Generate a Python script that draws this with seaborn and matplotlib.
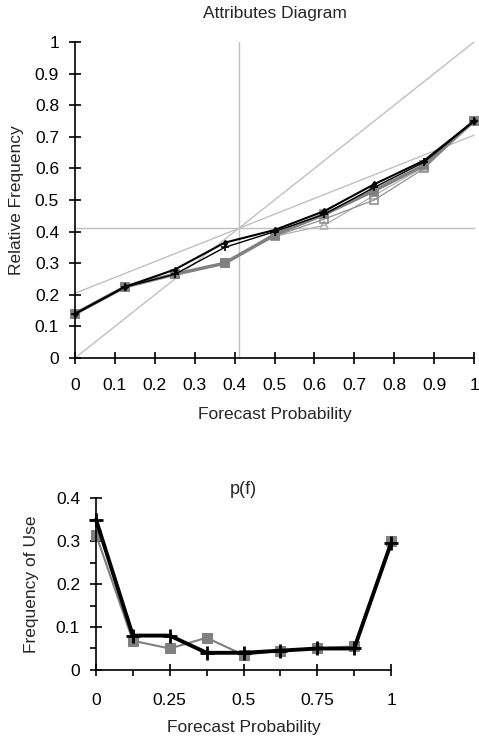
import numpy as np
import pandas as pd
import matplotlib
matplotlib.use("Agg")
import matplotlib.pyplot as plt
import seaborn as sns
from matplotlib.ticker import FuncFormatter, MultipleLocator

# forecast probability bins
prob = [0, 0.125, 0.25, 0.375, 0.5, 0.625, 0.75, 0.875, 1]
clim = 0.41

# attributes diagram: observed relative frequency per bin
rel_a = [0.14, 0.225, 0.28, 0.365, 0.405, 0.465, 0.55, 0.625, 0.75]
rel_b = [0.14, 0.225, 0.265, 0.35, 0.40, 0.455, 0.54, 0.62, 0.75]
rel_c = [0.14, 0.225, 0.265, 0.30, 0.39, 0.455, 0.53, 0.61, 0.75]
rel_d = [0.14, 0.225, 0.265, 0.30, 0.385, 0.44, 0.50, 0.60, 0.75]
rel_e = [0.14, 0.225, 0.265, 0.30, 0.385, 0.42, 0.515, 0.605, 0.75]

# p(f): frequency of use
use_a = [0.35, 0.08, 0.08, 0.04, 0.04, 0.045, 0.05, 0.05, 0.295]
use_b = [0.315, 0.068, 0.05, 0.075, 0.035, 0.045, 0.05, 0.055, 0.30]

x_ticks = [0, 0.1, 0.2, 0.3, 0.4, 0.5, 0.6, 0.7, 0.8, 0.9, 1]
y_ticks = [0, 0.1, 0.2, 0.3, 0.4, 0.5, 0.6, 0.7, 0.8, 0.9, 1]

sns.set_style("ticks")
plt.rcParams["font.family"] = ["Liberation Sans", "DejaVu Sans"]
plt.rcParams["font.size"] = 12.5

fmt = FuncFormatter(lambda v, p: f"{v:g}")

fig = plt.figure(figsize=(4.79, 7.4), dpi=100)

# ---------------- attributes diagram
ax = fig.add_axes([0.1566, 0.5162, 0.833, 0.427])
grey = "#c0c0c0"
ax.plot([0, 1], [0, 1], color=grey, lw=1)
ax.plot([0, 1], [clim / 2, (1 + clim) / 2], color=grey, lw=1)
ax.axhline(clim, color=grey, lw=1)
ax.axvline(clim, color=grey, lw=1)

rel = pd.DataFrame({"prob": prob, "a": rel_a, "b": rel_b, "c": rel_c, "d": rel_d, "e": rel_e})
styles = [
    ("e", "#b0b0b0", 0.9, "^", "none"),
    ("d", "#909090", 0.9, "s", "none"),
    ("c", "#808080", 2.5, "s", "#808080"),
    ("b", "black", 1.0, "+", "black"),
    ("a", "black", 1.5, "d", "black"),
]
for col, c, lw, m, fc in styles:
    sns.lineplot(data=rel, x="prob", y=col, ax=ax, color=c, lw=lw, marker=m,
                 markersize=6 if m != "d" else 3, markerfacecolor=fc,
                 markeredgecolor=c, markeredgewidth=1.2)

ax.set_xlim(0, 1)
ax.set_ylim(0, 1)
ax.set_xticks(x_ticks)
ax.set_yticks(y_ticks)
ax.xaxis.set_major_formatter(fmt)
ax.yaxis.set_major_formatter(fmt)
ax.tick_params(direction="inout", length=9, width=1.2, colors="black", pad=7)
ax.tick_params(axis="x", pad=10)
ax.set_title("Attributes Diagram", fontsize=12.5, pad=17)
ax.set_xlabel("Forecast Probability", labelpad=10)
ax.set_ylabel("Relative Frequency", labelpad=8)
for s in ["left", "bottom"]:
    ax.spines[s].set_linewidth(1.2)
    ax.spines[s].set_color("black")
sns.despine(ax=ax)
for ln in ax.lines:
    ln.set_clip_on(False)

# ---------------- p(f)
ax2 = fig.add_axes([0.2004, 0.0946, 0.616, 0.2324])
use = pd.DataFrame({"prob": prob, "a": use_a, "b": use_b})
sns.lineplot(data=use, x="prob", y="b", ax=ax2, color="#808080", lw=1.5, marker="s",
             markersize=7, markerfacecolor="#808080", markeredgecolor="#808080")
sns.lineplot(data=use, x="prob", y="a", ax=ax2, color="black", lw=2.8, marker="+",
             markersize=10, markeredgecolor="black", markeredgewidth=2)
ax2.set_xlim(0, 1)
ax2.set_ylim(0, 0.4)
ax2.set_xticks([0, 0.25, 0.5, 0.75, 1])
ax2.set_yticks([0, 0.1, 0.2, 0.3, 0.4])
ax2.xaxis.set_minor_locator(MultipleLocator(0.125))
ax2.yaxis.set_minor_locator(MultipleLocator(0.05))
ax2.xaxis.set_major_formatter(fmt)
ax2.yaxis.set_major_formatter(fmt)
ax2.tick_params(which="major", direction="inout", length=9, width=1.2, colors="black", pad=7)
ax2.tick_params(axis="x", which="major", pad=12)
ax2.tick_params(which="minor", direction="out", length=4, width=1.2, colors="black")
ax2.set_title("p(f)", fontsize=13, pad=1)
ax2.set_xlabel("Forecast Probability", labelpad=9)
ax2.set_ylabel("Frequency of Use", labelpad=12)
for s in ["left", "bottom"]:
    ax2.spines[s].set_linewidth(1.2)
    ax2.spines[s].set_color("black")
sns.despine(ax=ax2)
for ln in ax2.lines:
    ln.set_clip_on(False)

fig.savefig("out.png", dpi=100)
